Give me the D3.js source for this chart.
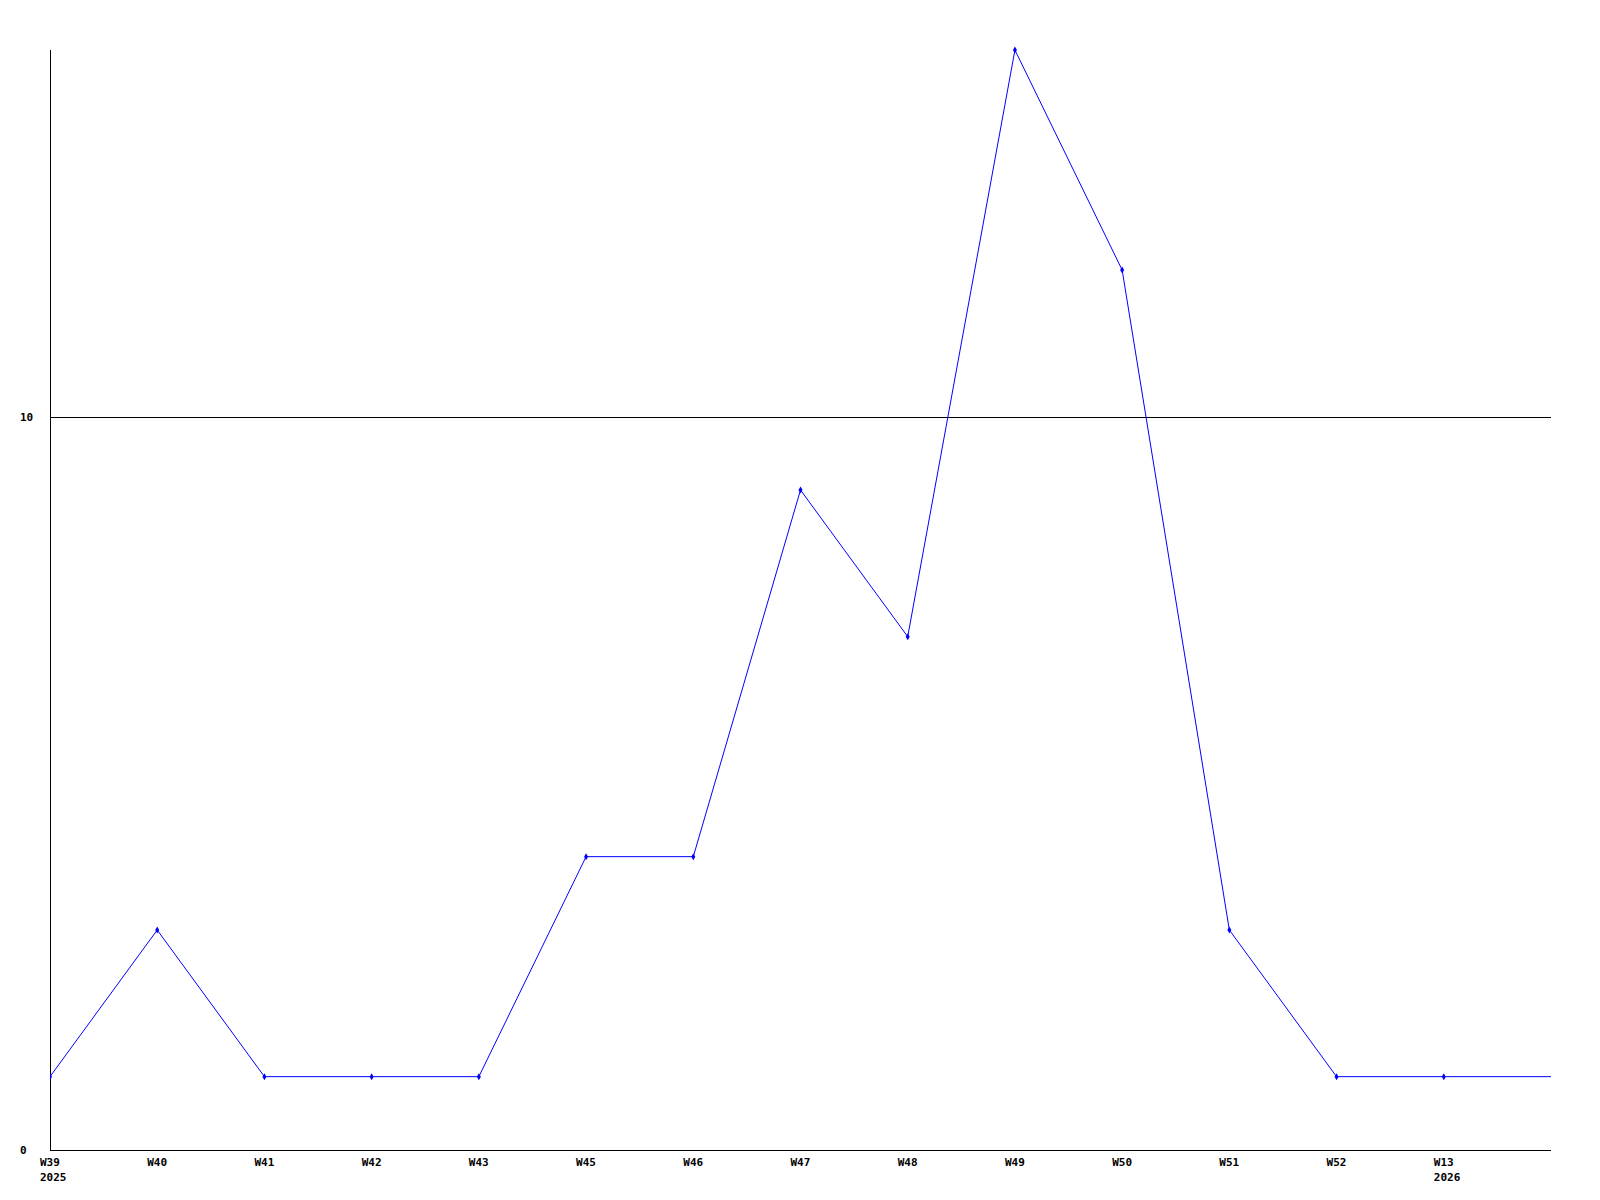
<!DOCTYPE html>
<html>
<head>
<meta charset="utf-8">
<script src="https://cdn.jsdelivr.net/npm/d3@7"></script>
<style>
  body { margin: 0; background: #fff; }
  text { font-family: "DejaVu Sans Mono", monospace; font-weight: bold; font-size: 11px; fill: #000; }
</style>
</head>
<body>
<div id="chart"></div>
<script>
// Weekly counts
const weeks = ["W39", "W40", "W41", "W42", "W43", "W45", "W46", "W47", "W48", "W49", "W50", "W51", "W52", "W13", ""];
const years = ["2025", "", "", "", "", "", "", "", "", "", "", "", "", "2026", ""];
const counts = [1, 3, 1, 1, 1, 4, 4, 9, 7, 15, 12, 3, 1, 1, 1];
const yTicks = [0, 10];

const width = 1600, height = 1200;
const plotLeft = 50, plotRight = 1551, plotTop = 50, plotBottom = 1150;

const svg = d3.select("#chart").append("svg")
  .attr("width", width)
  .attr("height", height);

const x = d3.scaleLinear()
  .domain([0, weeks.length - 1])
  .range([plotLeft, plotRight]);

const y = d3.scaleLinear()
  .domain([0, 15])
  .range([plotBottom, plotTop]);

svg.append("clipPath").attr("id", "plot")
  .append("rect")
  .attr("x", plotLeft).attr("y", plotTop - 5)
  .attr("width", plotRight - plotLeft).attr("height", plotBottom - plotTop + 10);

// gridlines (except 0, which is the axis)
svg.selectAll("line.grid")
  .data(yTicks.filter(d => d > 0))
  .enter().append("line")
  .attr("x1", plotLeft).attr("x2", plotRight)
  .attr("y1", d => Math.round(y(d)) + 0.5).attr("y2", d => Math.round(y(d)) + 0.5)
  .attr("stroke", "#000").attr("stroke-width", 1);

// axes
svg.append("line")
  .attr("x1", plotLeft + 0.5).attr("x2", plotLeft + 0.5)
  .attr("y1", plotTop).attr("y2", plotBottom)
  .attr("stroke", "#000");
svg.append("line")
  .attr("x1", plotLeft).attr("x2", plotRight)
  .attr("y1", plotBottom + 0.5).attr("y2", plotBottom + 0.5)
  .attr("stroke", "#000");

svg.selectAll("text.ylab")
  .data(yTicks)
  .enter().append("text")
  .attr("x", 20)
  .attr("y", d => y(d) + 4)
  .text(d => d);

// x labels
const xl = svg.selectAll("g.xlab")
  .data(weeks.map((w, i) => ({ w, yr: years[i], i })).filter(d => d.w))
  .enter().append("g");
xl.append("text")
  .attr("x", d => x(d.i) - 10)
  .attr("y", plotBottom + 16)
  .text(d => d.w);
xl.append("text")
  .attr("x", d => x(d.i) - 10)
  .attr("y", plotBottom + 31)
  .text(d => d.yr);

// series
const g = svg.append("g").attr("clip-path", "url(#plot)");
g.append("path")
  .datum(counts)
  .attr("fill", "none")
  .attr("stroke", "#0000ff")
  .attr("stroke-width", 1)
  .attr("d", d3.line().x((d, i) => x(i)).y(d => y(d)));

g.selectAll("path.pt")
  .data(counts.slice(0, weeks.length - 1))
  .enter().append("path")
  .attr("transform", (d, i) => `translate(${x(i)},${y(d)})`)
  .attr("d", d3.symbol().type(d3.symbolDiamond).size(14))
  .attr("fill", "#0000ff");
</script>
</body>
</html>
